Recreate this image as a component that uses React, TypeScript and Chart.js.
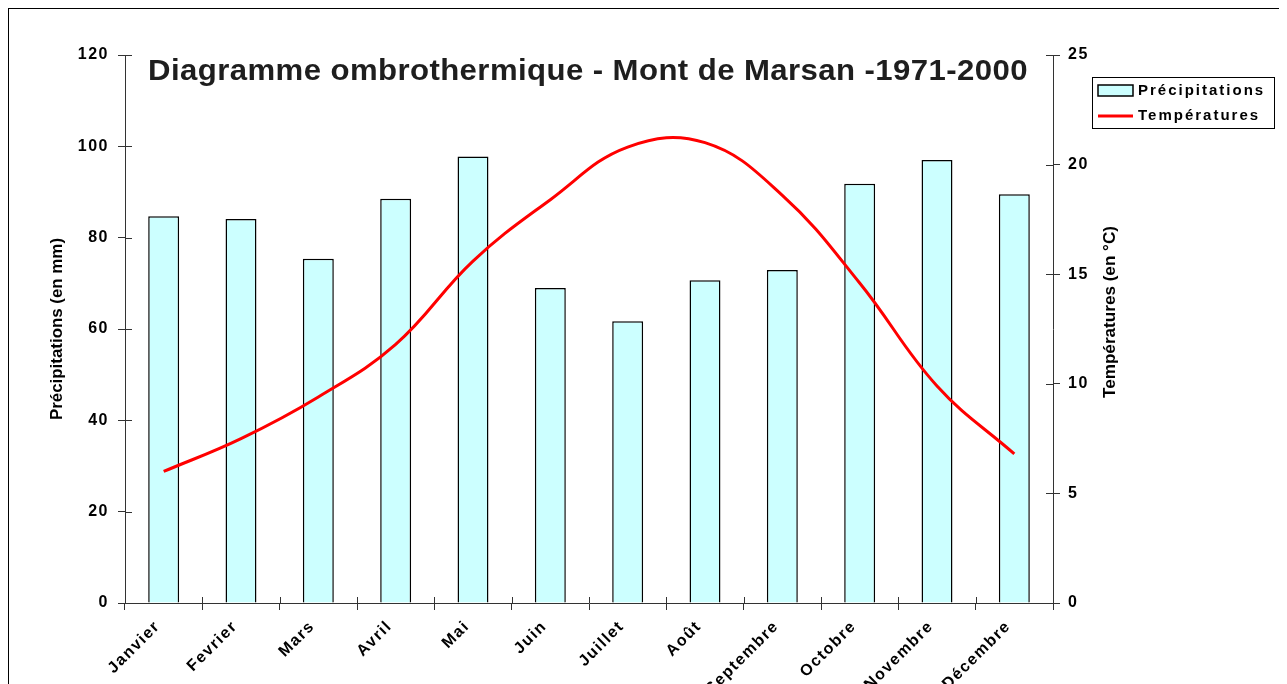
import React, { useEffect, useRef } from "react";
import { Chart, registerables } from "chart.js";

Chart.register(...registerables);

const months = ["Janvier", "Fevrier", "Mars", "Avril", "Mai", "Juin", "Juillet", "Août", "Septembre", "Octobre", "Novembre", "Décembre"];
const precipitations = [84.7, 84.1, 75.4, 88.5, 97.8, 69.0, 61.7, 70.7, 72.9, 91.8, 97.0, 89.5];
const temperatures = [6.0, 7.5, 9.4, 11.8, 15.6, 18.4, 20.8, 21.0, 18.6, 14.6, 9.9, 6.8];
const titleText = "Diagramme ombrothermique - Mont de Marsan -1971-2000";
const leftTitle = "Précipitations (en mm)";
const rightTitle = "Températures (en °C)";

const FONT = "'Liberation Sans', Arial, sans-serif";
const AXIS_COLOR = "#333";

function drawFitted(ctx: CanvasRenderingContext2D, text: string, x: number, y: number, targetW: number, rot: number) {
  ctx.save();
  (ctx as any).letterSpacing = "0px";
  const w = ctx.measureText(text).width;
  ctx.translate(x, y);
  ctx.rotate(rot);
  ctx.scale(targetW / w, 1);
  ctx.fillText(text, 0, 0);
  ctx.restore();
}

const spacingPlugin = {
  id: "spacing",
  beforeUpdate(chart: any) {
    (chart.ctx as any).letterSpacing = "1.5px";
  },
  beforeDraw(chart: any) {
    (chart.ctx as any).letterSpacing = "1.5px";
  },
};

const extrasPlugin = {
  id: "extras",
  afterDraw(chart: any) {
    const ctx = chart.ctx as CanvasRenderingContext2D;
    const ca = chart.chartArea;
    ctx.save();
    // inner halves of tick marks (ticks cross the axes)
    ctx.strokeStyle = AXIS_COLOR;
    ctx.lineWidth = 1;
    const n = months.length;
    ctx.beginPath();
    for (let i = 0; i <= n; i++) {
      const px = Math.round(ca.left + ((ca.right - ca.left) * i) / n) + 0.5;
      ctx.moveTo(px, ca.bottom);
      ctx.lineTo(px, ca.bottom - 6);
    }
    chart.scales.y.ticks.forEach((t: any) => {
      const py = Math.round(chart.scales.y.getPixelForValue(t.value)) + 0.5;
      ctx.moveTo(ca.left, py);
      ctx.lineTo(ca.left + 7, py);
    });
    chart.scales.y1.ticks.forEach((t: any) => {
      const py = Math.round(chart.scales.y1.getPixelForValue(t.value)) + 0.5;
      ctx.moveTo(ca.right, py);
      ctx.lineTo(ca.right - 7, py);
    });
    ctx.stroke();

    // title
    ctx.fillStyle = "#1e1e1e";
    ctx.font = `bold 30px ${FONT}`;
    ctx.textAlign = "left";
    ctx.textBaseline = "alphabetic";
    (ctx as any).letterSpacing = "0.4px";
    const tw = ctx.measureText(titleText).width;
    ctx.save();
    ctx.translate(139, 71);
    ctx.scale(880 / tw, 1);
    ctx.fillText(titleText, 0, 0);
    ctx.restore();

    // axis titles
    ctx.fillStyle = "#000";
    ctx.textAlign = "center";
    ctx.textBaseline = "middle";
    ctx.font = `bold 17px ${FONT}`;
    drawFitted(ctx, leftTitle, 48, 320, 182, -Math.PI / 2);
    drawFitted(ctx, rightTitle, 1101, 303, 172, -Math.PI / 2);

    // legend
    const lx = 1083, ly = 68, lw = 182, lh = 51;
    ctx.lineWidth = 1;
    ctx.strokeStyle = "#000";
    ctx.strokeRect(lx + 0.5, ly + 0.5, lw, lh);
    ctx.fillStyle = "#ccffff";
    ctx.fillRect(lx + 6, ly + 8, 35, 11);
    ctx.lineWidth = 1.5;
    ctx.strokeRect(lx + 6, ly + 8, 35, 11);
    ctx.strokeStyle = "#ff0000";
    ctx.lineWidth = 3;
    ctx.beginPath();
    ctx.moveTo(lx + 6, ly + 39);
    ctx.lineTo(lx + 41, ly + 39);
    ctx.stroke();
    ctx.fillStyle = "#000";
    ctx.font = `bold 15px ${FONT}`;
    (ctx as any).letterSpacing = "2px";
    ctx.textAlign = "left";
    ctx.fillText("Précipitations", lx + 46, ly + 14);
    ctx.fillText("Températures", lx + 46, ly + 39);
    ctx.restore();
    (ctx as any).letterSpacing = "1.5px";
  },
};

export default function App() {
  const ref = useRef<HTMLCanvasElement>(null);
  useEffect(() => {
    document.body.style.overflow = "hidden";
    const tickFont = { family: FONT, weight: "bold", size: 16 };
    const chart = new Chart(ref.current!, {
      type: "bar",
      data: {
        labels: months,
        datasets: [
          {
            type: "line",
            label: "Températures",
            data: temperatures,
            yAxisID: "y1",
            borderColor: "#ff0000",
            borderWidth: 3,
            pointRadius: 0,
            tension: 0.4,
            fill: false,
            order: 1,
          } as any,
          {
            type: "bar",
            label: "Précipitations",
            data: precipitations,
            yAxisID: "y",
            backgroundColor: "#ccffff",
            borderColor: "#000",
            borderWidth: 1.5,
            categoryPercentage: 1,
            barPercentage: 0.4,
            order: 2,
          },
        ],
      },
      options: {
        animation: false,
        responsive: false,
        layout: { padding: { top: 46, left: 0, right: 0, bottom: 0 } },
        plugins: { legend: { display: false }, tooltip: { enabled: false }, title: { display: false } },
        scales: {
          x: {
            offset: true,
            grid: { offset: true, drawOnChartArea: false, drawTicks: true, tickLength: 7, color: AXIS_COLOR },
            border: { display: true, color: AXIS_COLOR, width: 1 },
            ticks: {
              color: "#000",
              font: tickFont,
              maxRotation: 45,
              minRotation: 45,
              padding: 7,
              labelOffset: -6,
              autoSkip: false,
            },
            afterFit: (s: any) => { s.height = 81; },
          },
          y: {
            position: "left",
            min: 0,
            max: 120,
            ticks: { stepSize: 20, color: "#000", font: tickFont, padding: 9 },
            grid: { drawOnChartArea: false, tickLength: 7, color: AXIS_COLOR },
            border: { display: true, color: AXIS_COLOR, width: 1 },
            afterFit: (s: any) => { s.width = 116; },
          },
          y1: {
            position: "right",
            min: 0,
            max: 25,
            ticks: { stepSize: 5, color: "#000", font: tickFont, padding: 8 },
            grid: { drawOnChartArea: false, tickLength: 7, color: AXIS_COLOR },
            border: { display: true, color: AXIS_COLOR, width: 1 },
            afterFit: (s: any) => { s.width = 234; },
          },
        },
      } as any,
      plugins: [spacingPlugin, extrasPlugin],
    });
    return () => chart.destroy();
  }, []);
  return (
    <div style={{ position: "relative", width: 1279, height: 676, borderTop: "1px solid #000", borderLeft: "1px solid #000" }}>
      <canvas ref={ref} width={1278} height={675} style={{ display: "block" }} />
    </div>
  );
}
